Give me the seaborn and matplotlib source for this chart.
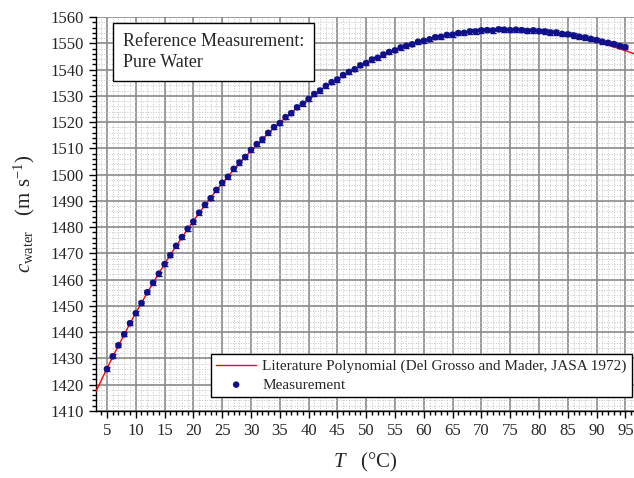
import matplotlib
matplotlib.use("Agg")
import matplotlib.pyplot as plt
import pandas as pd
import seaborn as sns
from matplotlib.ticker import MultipleLocator

# 文献多项式 (Del Grosso & Mader 1972) 的读数值，单位 m/s
lit_temp = list(range(3, 98))
lit_speed = [
    1417.0, 1421.6, 1426.2, 1430.6, 1434.9, 1439.1, 1443.3, 1447.3, 1451.2, 1455.0,
    1458.7, 1462.4, 1465.9, 1469.4, 1472.8, 1476.0, 1479.2, 1482.3, 1485.4, 1488.3,
    1491.2, 1494.0, 1496.7, 1499.3, 1501.9, 1504.4, 1506.8, 1509.1, 1511.4, 1513.6,
    1515.7, 1517.8, 1519.8, 1521.7, 1523.6, 1525.4, 1527.2, 1528.9, 1530.5, 1532.1,
    1533.6, 1535.0, 1536.4, 1537.7, 1539.0, 1540.3, 1541.4, 1542.6, 1543.6, 1544.6,
    1545.6, 1546.5, 1547.4, 1548.2, 1549.0, 1549.7, 1550.4, 1551.0, 1551.6, 1552.1,
    1552.6, 1553.0, 1553.4, 1553.8, 1554.1, 1554.4, 1554.6, 1554.8, 1554.9, 1555.1,
    1555.1, 1555.1, 1555.1, 1555.1, 1555.0, 1554.9, 1554.7, 1554.5, 1554.3, 1554.0,
    1553.7, 1553.3, 1552.9, 1552.5, 1552.0, 1551.6, 1551.0, 1550.5, 1549.9, 1549.3,
    1548.6, 1547.9, 1547.2, 1546.4, 1545.7,
]

# 测量点
meas_temp = list(range(5, 96))
meas_speed = [
    1426.0, 1430.8, 1435.0, 1439.2, 1443.4, 1447.2, 1451.1, 1455.2, 1458.8, 1462.3,
    1465.9, 1469.3, 1472.9, 1476.2, 1479.4, 1482.1, 1485.5, 1488.5, 1491.0, 1494.2,
    1496.9, 1499.2, 1502.2, 1504.6, 1506.7, 1509.4, 1511.6, 1513.4, 1515.9, 1518.1,
    1519.6, 1521.9, 1523.4, 1525.6, 1527.0, 1528.8, 1530.7, 1532.0, 1533.8, 1535.2,
    1536.2, 1537.9, 1539.1, 1540.1, 1541.6, 1542.5, 1543.8, 1544.5, 1545.7, 1546.7,
    1547.3, 1548.4, 1549.1, 1549.6, 1550.6, 1551.0, 1551.5, 1552.3, 1552.5, 1553.2,
    1553.3, 1553.9, 1554.0, 1554.5, 1554.5, 1554.9, 1555.0, 1554.9, 1555.3, 1555.2,
    1555.0, 1555.2, 1555.0, 1554.7, 1554.9, 1554.6, 1554.5, 1554.1, 1554.1, 1553.6,
    1553.4, 1553.0, 1552.5, 1552.2, 1551.7, 1551.2, 1550.6, 1550.2, 1549.7, 1549.0,
    1548.5, 1547.8, 1547.4, 1546.9, 1546.8,
]
meas_err = 0.8

lit_df = pd.DataFrame({"T": lit_temp, "c": lit_speed})
meas_df = pd.DataFrame({"T": meas_temp, "c": meas_speed[: len(meas_temp)]})

sns.set_style("ticks")
plt.rcParams["font.family"] = ["Liberation Serif", "DejaVu Serif"]
plt.rcParams["mathtext.fontset"] = "custom"
plt.rcParams["mathtext.rm"] = "Liberation Serif"
plt.rcParams["mathtext.it"] = "Liberation Serif:italic"

fig = plt.figure(figsize=(6.34, 4.78), dpi=100)
ax = fig.add_axes([0.1514, 0.1402, 0.8486, 0.8242])

# 网格
ax.xaxis.set_major_locator(MultipleLocator(5))
ax.xaxis.set_minor_locator(MultipleLocator(1))
ax.yaxis.set_major_locator(MultipleLocator(10))
ax.yaxis.set_minor_locator(MultipleLocator(2))
ax.grid(which="minor", color="#c4c4c4", linestyle=":", linewidth=0.7)
ax.grid(which="major", color="#8a8a8a", linestyle="-", linewidth=1.2)
ax.set_axisbelow(True)

sns.lineplot(data=lit_df, x="T", y="c", ax=ax, color="red", linewidth=1.0,
             label="Literature Polynomial (Del Grosso and Mader, JASA 1972)", zorder=3)
ax.errorbar(meas_df["T"], meas_df["c"], yerr=meas_err, fmt="none", ecolor="#10108a",
            elinewidth=1.0, capsize=2.5, capthick=1.0, zorder=4)
sns.scatterplot(data=meas_df, x="T", y="c", ax=ax, color="#10108a", marker="o", s=22,
                edgecolor="none", label="Measurement", zorder=5)

ax.set_xlim(3.1, 96.5)
ax.set_ylim(1410, 1560)

ax.set_xlabel(r"$T$   (°C)", fontsize=15, labelpad=9)
ax.set_ylabel(r"$c_{\mathrm{water}}$   (m s$^{\mathrm{-1}}$)", fontsize=15, labelpad=10)

ax.tick_params(which="major", direction="out", length=5, width=1, labelsize=12, color="black")
ax.tick_params(which="minor", direction="out", length=3, width=1, color="black")
for side in ["top", "right"]:
    ax.spines[side].set_visible(False)
for side in ["left", "bottom"]:
    ax.spines[side].set_color("black")
    ax.spines[side].set_linewidth(1.0)

ax.text(0.050, 0.960, "Reference Measurement:\nPure Water", transform=ax.transAxes,
        ha="left", va="top", fontsize=13, linespacing=1.3,
        bbox=dict(facecolor="white", edgecolor="black", boxstyle="square,pad=0.55", linewidth=1.0))

leg = ax.legend(loc="lower right", bbox_to_anchor=(0.996, 0.0355), fontsize=11, frameon=True,
                fancybox=False, edgecolor="black", framealpha=1, borderpad=0.35,
                labelspacing=0.3, handlelength=2.6, handletextpad=0.4, borderaxespad=0.0)
leg.get_frame().set_linewidth(1.0)

plt.savefig("out.png", dpi=100)
plt.close()
